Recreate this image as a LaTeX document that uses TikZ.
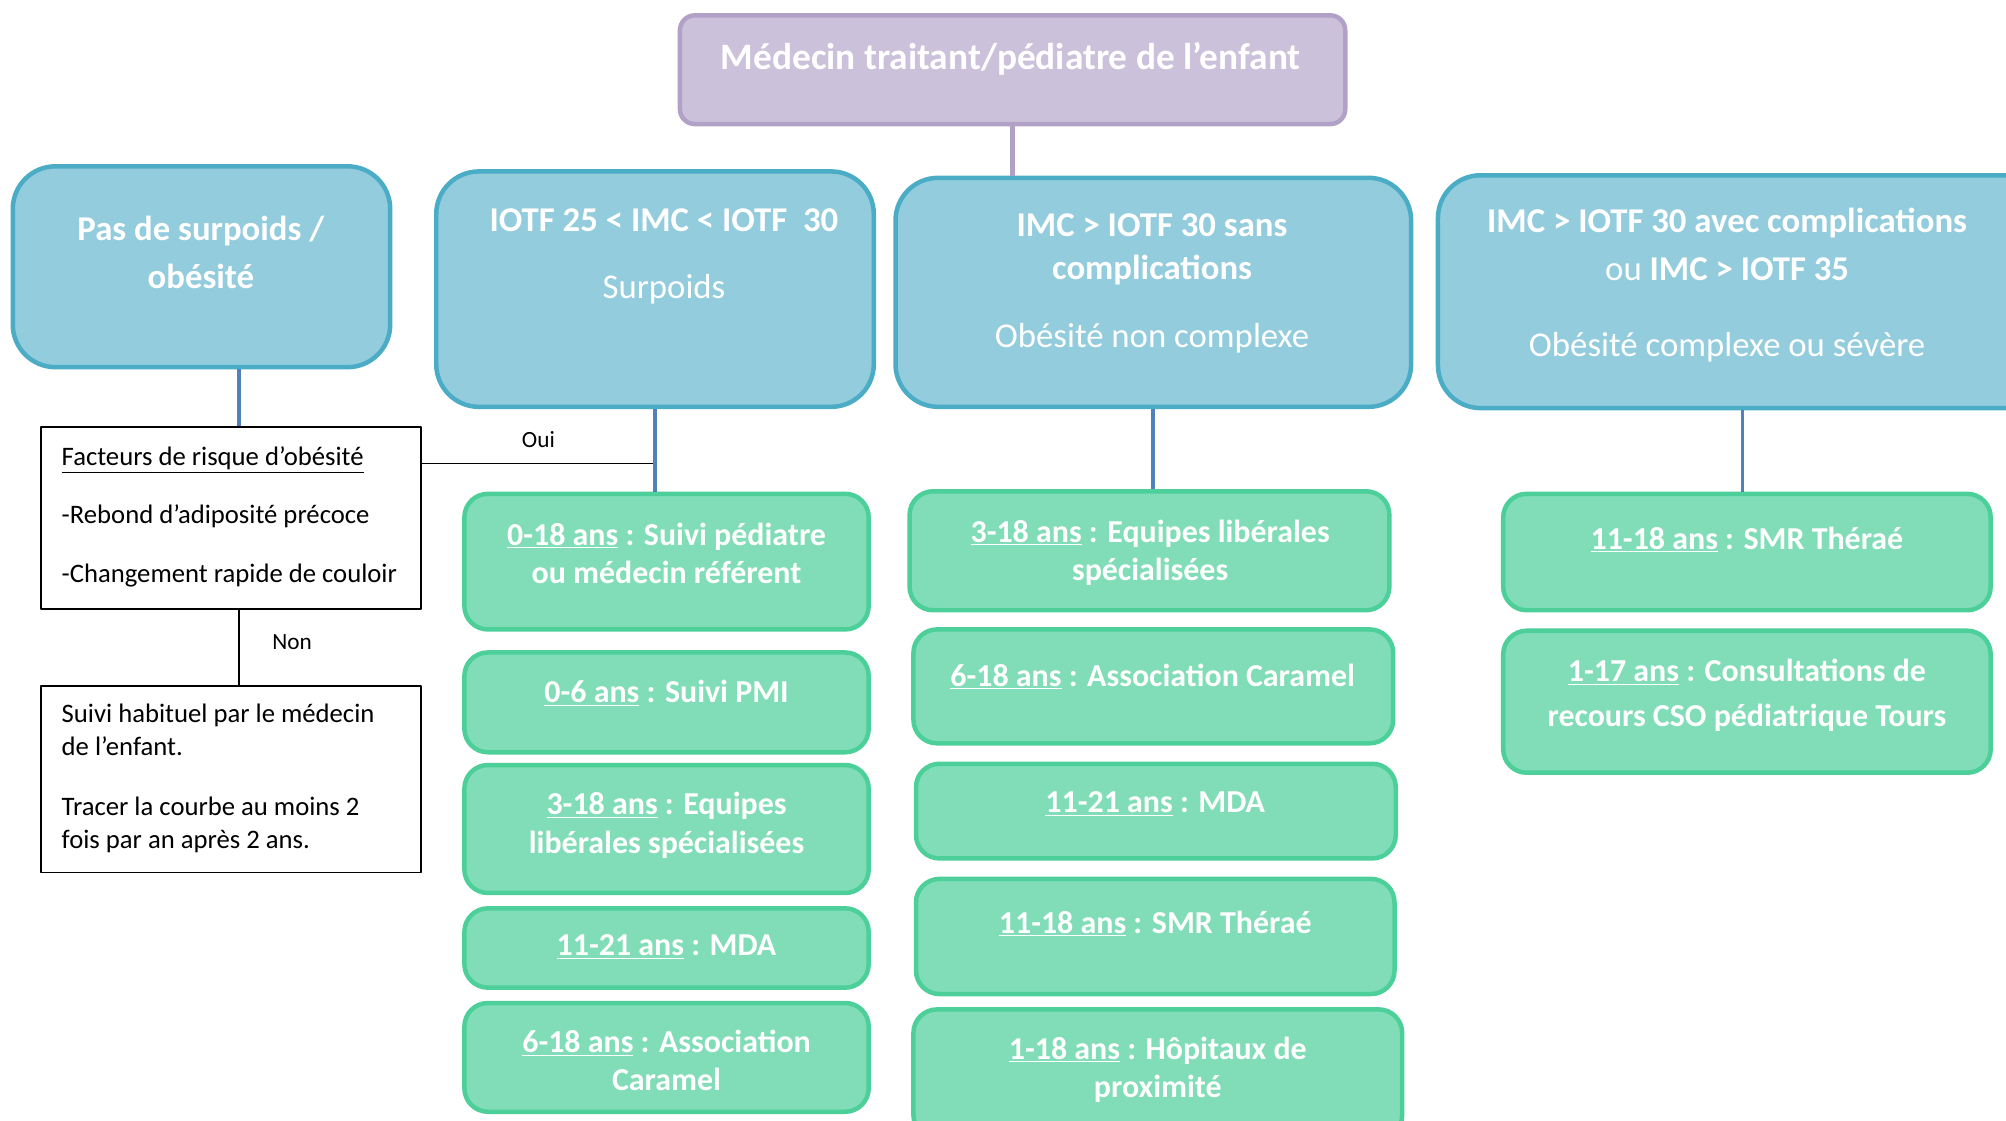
\documentclass[tikz,border=0pt]{standalone}
\usepackage{fontspec}
\setmainfont{Carlito}
\definecolor{mauvefill}{HTML}{CCC1DA}
\definecolor{mauveline}{HTML}{B2A1C7}
\definecolor{bleufill}{HTML}{93CCDD}
\definecolor{bleuline}{HTML}{4BACC6}
\definecolor{vertfill}{HTML}{80DDB7}
\definecolor{vertline}{HTML}{4CCF99}
\definecolor{lienbleu}{HTML}{4F81BD}
\begin{document}
\begin{tikzpicture}[x=0.03cm,y=-0.03cm,line cap=round,line join=round,
  titre/.style={draw=mauveline,fill=mauvefill,line width=3pt,rounded corners=0.35cm},
  bleu/.style={draw=bleuline,fill=bleufill,line width=3pt,rounded corners=1cm},
  vert/.style={draw=vertline,fill=vertfill,line width=3pt,rounded corners=0.55cm,minimum width=9.48cm},
  cadre/.style={draw,line width=1.1pt,minimum width=8.91cm},
  ttxt/.style={text=white,align=center,font=\fontsize{24.9}{30}\selectfont\bfseries},
  btxt/.style={text=white,align=center,font=\fontsize{23.2}{29}\selectfont\bfseries},
  gtxt/.style={text=white,align=center,font=\fontsize{21.3}{25.6}\selectfont\bfseries},
  ctxt/.style={align=left,inner xsep=0pt,font=\fontsize{17.8}{22}\selectfont},
  etiq/.style={font=\fontsize{15.5}{18}\selectfont},
  lien/.style={line width=1pt,line cap=butt},
  lienb/.style={draw=lienbleu,line width=2.6pt,line cap=butt},
  lienm/.style={draw=mauveline,line width=3.6pt,line cap=butt}]
\useasboundingbox (0,0) rectangle (1568,876);
\clip (0,0) rectangle (1568,876);
% haut
\node[titre,minimum width=15.6cm,minimum height=2.55cm] (medecin) at (791.5,54.5) {};
\node[ttxt] (medecin-t) at (790,46) {Médecin traitant/pédiatre de l’enfant};
% categories IMC
\node[bleu,minimum width=8.85cm,minimum height=4.71cm] (surpoids) at (157.5,208.5) {};
\node[btxt] (surpoids-t) at (157,197) {Pas de surpoids /\\[3pt]obésité};
\node[bleu,minimum width=10.26cm,minimum height=5.52cm] (iotf25) at (512,226) {};
\node[btxt] (iotf25-t) at (519,200.5) {IOTF 25 < IMC < IOTF~~30\\[16pt]{\mdseries Surpoids}};
\node[bleu,minimum width=12.09cm,minimum height=5.37cm] (sans) at (901.5,228.5) {};
\node[btxt] (sans-t) at (900.5,221.5) {IMC > IOTF 30 sans\\complications\\[16pt]{\mdseries Obésité non complexe}};
\node[bleu,minimum width=14.28cm,minimum height=5.46cm] (avec) at (1362,228) {};
\node[btxt] (avec-t) at (1350,223) {IMC > IOTF 30 avec complications\\[3pt]{\mdseries ou} IMC > IOTF 35\\[22pt]{\mdseries Obésité complexe ou sévère}};
% pas de surpoids
\node[cadre,minimum height=4.26cm] (risque) at (180.5,405) {};
\node[ctxt,anchor=west] (risque-t) at (48,404) {\underline{Facteurs de risque d’obésité}\\[17pt]-Rebond d’adiposité précoce\\[17pt]-Changement rapide de couloir};
\node[cadre,minimum height=4.38cm] (suivi) at (180.5,609) {};
\node[ctxt,anchor=west] (suivi-t) at (48,608.5) {Suivi habituel par le médecin\\de l’enfant.\\[18pt]Tracer la courbe au moins 2\\fois par an après 2 ans.};
% surpoids
\node[vert,minimum height=3.18cm] (pediatre) at (521,439) {};
\node[gtxt] (pediatre-t) at (521,432.5) {\underline{0-18 ans} : Suivi pédiatre\\ou médecin référent};
\node[vert,minimum height=2.34cm] (pmi) at (521,549) {};
\node[gtxt] (pmi-t) at (521,542) {\underline{0-6 ans} : Suivi PMI};
\node[vert,minimum height=3cm] (liberal2) at (521,648) {};
\node[gtxt] (liberal2-t) at (521,645) {\underline{3-18 ans} : Equipes\\libérales spécialisées};
\node[vert,minimum height=1.86cm] (mda2) at (521,741) {};
\node[gtxt] (mda2-t) at (521,740) {\underline{11-21 ans} : MDA};
\node[vert,minimum height=2.55cm] (caramel2) at (521,826.5) {};
\node[gtxt] (caramel2-t) at (521,829) {\underline{6-18 ans} : Association\\Caramel};
% obesite non complexe
\node[vert,minimum width=11.25cm,minimum height=2.79cm] (liberal3) at (898.5,430.5) {};
\node[gtxt] (liberal3-t) at (899,432) {\underline{3-18 ans} : Equipes libérales\\spécialisées};
\node[vert,minimum width=11.25cm,minimum height=2.67cm] (caramel3) at (901.5,536.5) {};
\node[gtxt] (caramel3-t) at (901,529) {\underline{6-18 ans} : Association Caramel};
\node[vert,minimum width=11.25cm,minimum height=2.22cm] (mda3) at (903.5,634) {};
\node[gtxt] (mda3-t) at (903,628.5) {\underline{11-21 ans} : MDA};
\node[vert,minimum width=11.22cm,minimum height=2.7cm] (therae3) at (903,732) {};
\node[gtxt] (therae3-t) at (903,722) {\underline{11-18 ans} : SMR Théraé};
\node[vert,minimum width=11.46cm,minimum height=3.03cm] (hopitaux) at (905,839.5) {};
\node[gtxt] (hopitaux-t) at (905,836) {\underline{1-18 ans} : Hôpitaux de\\proximité};
% obesite complexe
\node[vert,minimum width=11.43cm,minimum height=2.73cm] (therae4) at (1365.5,431.5) {};
\node[gtxt] (therae4-t) at (1365.5,422) {\underline{11-18 ans} : SMR Théraé};
\node[vert,minimum width=11.43cm,minimum height=3.33cm] (cso) at (1365.5,548.5) {};
\node[gtxt] (cso-t) at (1365.5,543.5) {\underline{1-17 ans} : Consultations de\\[4pt]recours CSO pédiatrique Tours};
% liens
\draw[lienm] (medecin.south) -- (medecin.south |- sans.north);
\draw[lienb] (surpoids.south -| risque.85) -- (risque.85);
\draw[lien] (risque.16) -- (risque.16 -| iotf25.south) node[etiq,midway,above=7pt] (oui) {Oui};
\draw[lien] (risque.-85) -- (risque.-85 |- suivi.north) node[etiq,pos=0.43,right=0.65cm] (non) {Non};
\draw[lienb] (iotf25.south) -- (iotf25.south |- pediatre.north);
\draw[lienb] (sans.south) -- (sans.south |- liberal3.north);
\draw[lienb] (avec.south) -- (avec.south |- therae4.north);
\end{tikzpicture}
\end{document}
